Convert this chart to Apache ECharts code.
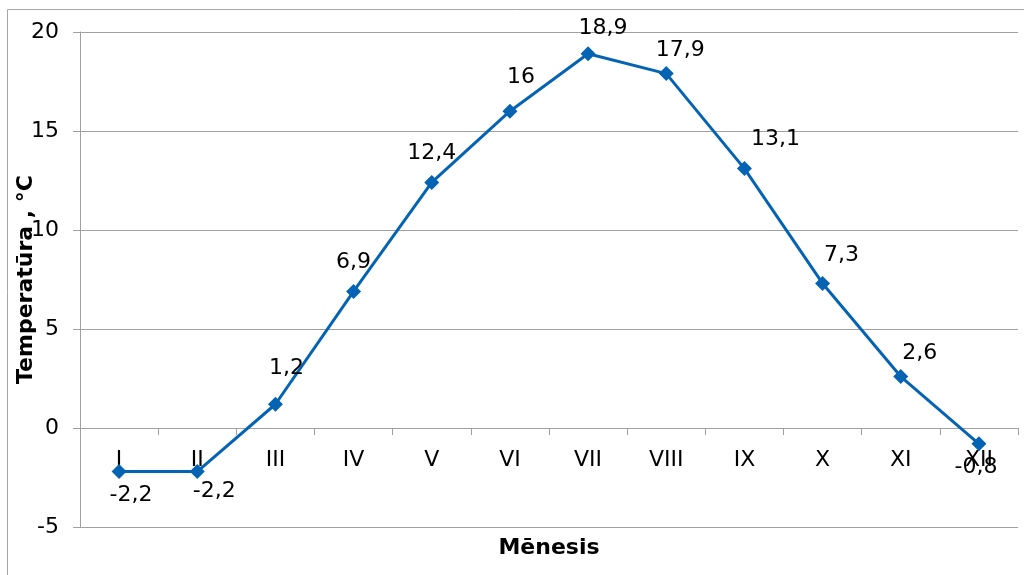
<!DOCTYPE html>
<html><head><meta charset="utf-8">
<script src="https://cdn.jsdelivr.net/npm/echarts@6/dist/echarts.min.js"></script>
<style>html,body{margin:0;padding:0;background:#fff}#c{width:1024px;height:575px}</style>
</head><body><div id="c"></div>
<script>
const months = ['I','II','III','IV','V','VI','VII','VIII','IX','X','XI','XII'];
const temperature = [-2.2,-2.2,1.2,6.9,12.4,16,18.9,17.9,13.1,7.3,2.6,-0.8];
const yTicks = [-5,0,5,10,15,20];

// label placement (styling only)
const labelOffsets = [[12,24],[17,20],[11,-36],[0,-29],[0,-29],[11,-34],[15,-25],[14,-23],[31,-29],[19,-28],[19,-23],[-3,23]];

const font = 'DejaVu Sans, Verdana, sans-serif';
const chart = echarts.init(document.getElementById('c'), null, {renderer:'canvas'});
chart.setOption({
  animation:false,
  backgroundColor:'#fff',
  graphic:[{type:'rect',shape:{x:7.5,y:9.5,width:1030,height:600},style:{fill:'none',stroke:'#a6a6a6',lineWidth:1},silent:true}],
  grid:{left:80,right:6,top:32,bottom:48,containLabel:false,outerBoundsMode:'none'},
  xAxis:{
    type:'category',data:months,boundaryGap:true,
    axisLine:{onZero:true,lineStyle:{color:'#a0a0a0',width:1}},
    axisTick:{show:true,interval:0,alignWithLabel:false,length:7,lineStyle:{color:'#a0a0a0'}},
    axisLabel:{interval:0,margin:-78,fontSize:22,color:'#000',fontFamily:font},
    name:'Mēnesis',nameLocation:'middle',nameGap:10,nameMoveOverlap:false,
    nameTextStyle:{fontSize:22,fontWeight:'bold',color:'#000',fontFamily:font}
  },
  yAxis:{
    type:'value',min:yTicks[0],max:yTicks[yTicks.length-1],interval:5,
    axisLine:{show:true,lineStyle:{color:'#a0a0a0',width:1}},
    axisTick:{show:true,length:7,lineStyle:{color:'#a0a0a0'}},
    axisLabel:{margin:21,fontSize:22,color:'#000',fontFamily:font},
    splitLine:{show:true,lineStyle:{color:'#a0a0a0',width:1}},
    name:'Temperatūra , °C',nameLocation:'middle',nameGap:43,nameMoveOverlap:false,
    nameTextStyle:{fontSize:22,fontWeight:'bold',color:'#000',fontFamily:font}
  },
  series:[{
    type:'line',
    data:temperature.map((v,i)=>({value:v,label:{offset:labelOffsets[i]}})),
    symbol:'diamond',symbolSize:15,
    lineStyle:{color:'#0563b4',width:3},
    itemStyle:{color:'#0563b4'},
    label:{show:true,position:'inside',fontSize:22,color:'#000',fontFamily:font,
      formatter:p=>String(p.value).replace('.',',')}
  }]
});
</script></body></html>
